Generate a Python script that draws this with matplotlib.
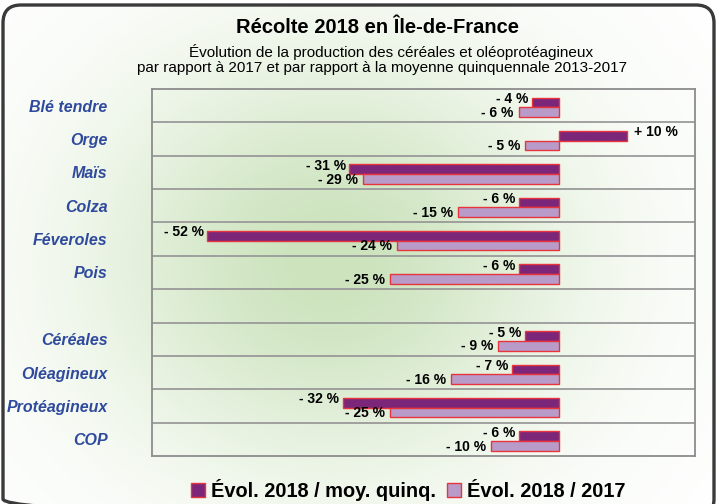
import numpy as np
import matplotlib
matplotlib.use("Agg")
import matplotlib.pyplot as plt
from matplotlib.patches import FancyBboxPatch
from matplotlib.lines import Line2D
from matplotlib.colors import to_rgb

plt.rcParams['font.family'] = ['Liberation Sans', 'DejaVu Sans']

categories = ["Blé tendre", "Orge", "Maïs", "Colza", "Féveroles", "Pois", "",
              "Céréales", "Oléagineux", "Protéagineux", "COP"]
evol_moy_quinq = [-4, 10, -31, -6, -52, -6, np.nan, -5, -7, -32, -6]
evol_2017 = [-6, -5, -29, -15, -24, -25, np.nan, -9, -16, -25, -10]
series_names = ["Évol. 2018 / moy. quinq.", "Évol. 2018 / 2017"]

title = "Récolte 2018 en Île-de-France"
subtitle_1 = "Évolution de la production des céréales et oléoprotéagineux"
subtitle_2 = "par rapport à 2017 et par rapport à la moyenne quinquennale 2013-2017"

W, H = 721, 504
fig = plt.figure(figsize=(W / 100, H / 100), dpi=100)

# background with green glow and rounded frame
bg = fig.add_axes([0, 0, 1, 1], zorder=0)
bg.set_xlim(0, W)
bg.set_ylim(H, 0)
bg.axis("off")
yy, xx = np.mgrid[0:H, 0:W]
g = np.exp(-(((xx - 330) / 240.0) ** 2 + ((yy - 260) / 210.0) ** 2))
c0 = np.array(to_rgb("#ffffff"))
c1 = np.array(to_rgb("#cce3bd"))
img = c0[None, None, :] * (1 - g[..., None]) + c1[None, None, :] * g[..., None]
im = bg.imshow(img, extent=(0, W, H, 0), aspect="auto", interpolation="bilinear")
frame = FancyBboxPatch((3, 5), 711, 512, boxstyle="round,pad=0,rounding_size=18",
                       facecolor="none", edgecolor="#3a3a3a", linewidth=2.4, zorder=3)
bg.add_patch(frame)
im.set_clip_path(frame)

# titles (pixel coordinates, baselines)
bg.text(377, 33, title, ha="center", va="baseline", fontsize=14.5, fontweight="bold")
bg.text(391, 57, subtitle_1, ha="center", va="baseline", fontsize=11)
bg.text(382, 72, subtitle_2, ha="center", va="baseline", fontsize=11)

# main axes
L, R, T, B = 152, 695, 89, 456
ax = fig.add_axes([L / W, 1 - B / H, (R - L) / W, (B - T) / H], zorder=1)
ax.set_facecolor("none")

n = len(categories)
y = np.arange(n)
h = 0.29
off = 0.05
dark = "#7b2679"
light = "#b89bc8"
edge = "#e8343c"

ax.barh(y - h / 2 + off, evol_moy_quinq, height=h, color=dark, edgecolor=edge,
        linewidth=1.0, label=series_names[0], zorder=3)
ax.barh(y + h / 2 + off, evol_2017, height=h, color=light, edgecolor=edge,
        linewidth=1.0, label=series_names[1], zorder=3)

def fmt(v):
    return ("+ " if v > 0 else "- ") + f"{abs(int(v))} %"

for i in range(n):
    v1 = evol_moy_quinq[i]
    v2 = evol_2017[i]
    if not np.isnan(v1):
        if v1 < 0:
            ax.annotate(fmt(v1), (v1, y[i] - h / 2 + off), xytext=(-2.5, 2.5),
                        textcoords="offset points", ha="right", va="center",
                        fontsize=10, fontweight="bold", zorder=5)
        else:
            ax.annotate(fmt(v1), (v1, y[i] - h / 2 + off), xytext=(5, 2.5),
                        textcoords="offset points", ha="left", va="center",
                        fontsize=10, fontweight="bold", zorder=5)
    if not np.isnan(v2):
        if v2 < 0:
            ax.annotate(fmt(v2), (v2, y[i] + h / 2 + off), xytext=(-3.5, -0.5),
                        textcoords="offset points", ha="right", va="center",
                        fontsize=10, fontweight="bold", zorder=5)
        else:
            ax.annotate(fmt(v2), (v2, y[i] + h / 2 + off), xytext=(5, -0.5),
                        textcoords="offset points", ha="left", va="center",
                        fontsize=10, fontweight="bold", zorder=5)

ax.set_xlim(-60.2, 20.1)
ax.set_ylim(n - 0.5, -0.5)
ax.set_xticks([])
ax.set_yticks(y)
ax.set_yticklabels(categories, fontsize=11.5, fontweight="bold", style="italic",
                   color="#2f4a9c")
ax.tick_params(axis="y", length=0, pad=32)
for yi in np.arange(0.5, n - 0.5, 1):
    ax.axhline(yi, color="#9a9a9a", linewidth=1.3, zorder=1)
for s in ax.spines.values():
    s.set_color("#8c8c8c")
    s.set_linewidth(1.3)

handles = [Line2D([], [], marker="s", linestyle="none", markersize=10.5,
                  markerfacecolor=dark, markeredgecolor=edge, markeredgewidth=1.0),
           Line2D([], [], marker="s", linestyle="none", markersize=10.5,
                  markerfacecolor=light, markeredgecolor=edge, markeredgewidth=1.0)]
fig.legend(handles, series_names, loc="center", bbox_to_anchor=(408 / W, 1 - 490 / H),
           ncol=2, frameon=False, prop={"size": 14.4, "weight": "bold"},
           handlelength=0.8, handletextpad=0.25, columnspacing=0.5, borderpad=0)

fig.savefig("out.png", dpi=100)
